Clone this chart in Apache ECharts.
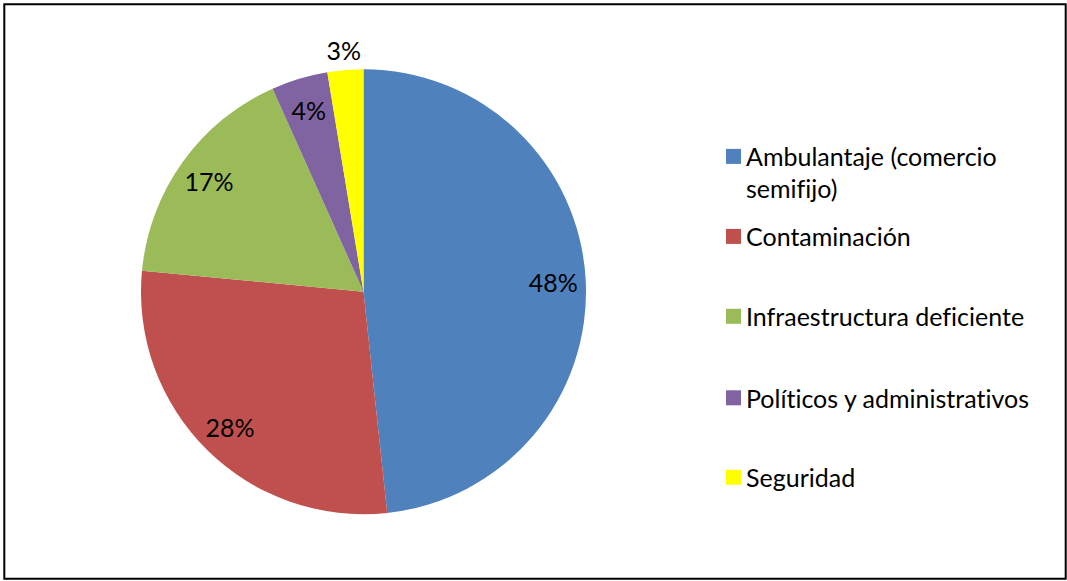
<!DOCTYPE html>
<html>
<head>
<meta charset="utf-8">
<script src="https://cdn.jsdelivr.net/npm/echarts@6/dist/echarts.min.js"></script>
<style>
  html, body { margin: 0; padding: 0; background: #fff; }
  #chart { width: 1067px; height: 581px; }
  /* sin ligaduras (Lato junta "ti" y "fi") */
  #chart text { font-variant-ligatures: none !important; font-feature-settings: "liga" 0, "dlig" 0, "clig" 0 !important; }
</style>
</head>
<body>
<div id="chart"></div>
<script>
// categorias y valores (porcentaje de cada problema)
var categorias = ['Ambulantaje (comercio semifijo)', 'Contaminación', 'Infraestructura deficiente', 'Políticos y administrativos', 'Seguridad'];
var valores = [48.3, 28.2, 16.8, 4.1, 2.6];
var colores = ['#4F81BD', '#C0504D', '#9BBB59', '#8064A2', '#FFFF00'];
// etiquetas que van fuera del pastel
var etiquetaFuera = [false, false, false, false, true];
// posicion vertical (centro del cuadrito) de cada elemento de la leyenda
var leyendaTop = [156.4, 236.4, 316.3, 397.8, 477.3];

var fuente = 'Lato';
var tamFuente = 25;
var altoLinea = 32;

var myChart = echarts.init(document.getElementById('chart'), null, { renderer: 'svg' });

var centro = [363.5, 291.7];

// serie transparente que solo pinta las etiquetas
function serieEtiquetas(radio, fuera) {
  return {
    type: 'pie',
    silent: true,
    center: centro,
    radius: radio,
    startAngle: 90,
    clockwise: true,
    percentPrecision: 0,
    avoidLabelOverlap: false,
    itemStyle: { color: 'transparent', borderWidth: 0 },
    labelLine: { show: false },
    emphasis: { disabled: true },
    data: categorias.map(function (c, i) {
      return {
        name: c,
        value: valores[i],
        label: { show: etiquetaFuera[i] === fuera }
      }
    }),
    label: {
      position: 'inside',
      formatter: '{d}%',
      color: '#000',
      fontFamily: fuente,
      fontSize: tamFuente
    }
  }
}

var leyendas = categorias.map(function (c, i) {
  var dosLineas = i === 0;
  // el cuadrito va alineado con la primera linea (linea vacia arriba)
  var top = dosLineas ? leyendaTop[i] - 1.5 * altoLinea : leyendaTop[i] - 16;
  return {
    orient: 'vertical',
    left: 726,
    top: top,
    padding: 0,
    icon: 'rect',
    itemWidth: 15,
    itemHeight: 15,
    selectedMode: false,
    data: [{ name: c, itemStyle: { color: colores[i] } }],
    formatter: function (n) {
      return n === categorias[0] ? '\nAmbulantaje (comercio\nsemifijo)' : n
    },
    textStyle: {
      fontFamily: fuente,
      fontSize: tamFuente,
      lineHeight: altoLinea,
      color: '#000'
    }
  }
});

var option = {
  animation: false,
  color: colores,
  legend: leyendas,
  graphic: [{
    type: 'rect',
    silent: true,
    shape: { x: 4.3, y: 4.3, width: 1061.4, height: 574.5 },
    style: { fill: null, stroke: '#000', lineWidth: 2 }
  }],
  series: [
    {
      type: 'pie',
      center: centro,
      radius: 222.5,
      startAngle: 90,
      clockwise: true,
      label: { show: false },
      labelLine: { show: false },
      itemStyle: { borderWidth: 0 },
      data: categorias.map(function (c, i) {
        return { name: c, value: valores[i] }
      })
    },
    serieEtiquetas([152, 222], false),
    serieEtiquetas([230, 250], true)
  ]
};

myChart.setOption(option);
</script>
</body>
</html>
